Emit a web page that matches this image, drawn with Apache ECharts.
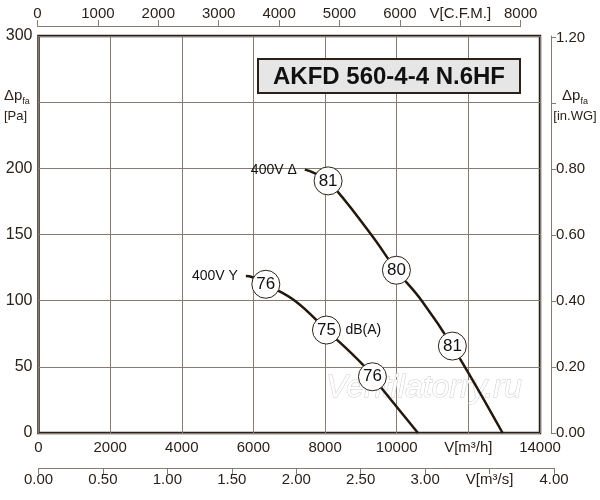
<!DOCTYPE html>
<html>
<head>
<meta charset="utf-8">
<script src="https://cdn.jsdelivr.net/npm/echarts@6/dist/echarts.min.js"></script>
<style>
  html, body { margin: 0; padding: 0; background: #fff; }
  #main { width: 600px; height: 500px; }
</style>
</head>
<body>
<div id="main"></div>
<script>
// fan curves, V in m3/h, dp in Pa
var curveDelta = [
  [7434, 199], [7657, 197], [8084, 190.5], [9295, 149.6],
  [9992, 123], [10698, 100], [11554, 65.7], [12957, 0]
];
var curveStar = [
  [5788, 118.6], [5955, 117.9], [6346, 112.4], [7183, 99.4],
  [8039, 77.8], [9060, 51.4], [9618, 32.5], [10594, 0]
];
// noise level circles [V, dp, dB]
var noiseDelta = [[8084, 190.5, '81'], [9992, 123, '80'], [11554, 65.7, '81']];
var noiseStar = [[6346, 112.4, '76'], [8039, 77.8, '75'], [9322, 42.5, '76']];
// curve names at the start of each curve
var curveNames = [[7434, 199, '400V Δ'], [5788, 118.6, '400V Y']];
var dbLabel = [[8039, 77.8, 'dB(A)']];

var cfmMax = 8000;
var m3sMax = 4.0;
var inwgMax = 300 / 249.089;

var ink = '#2b2118';
var gridCol = '#857b6e';
var fontFam = '"Liberation Sans", Arial, sans-serif';

var myChart = echarts.init(document.getElementById('main'));

myChart.setOption({
  animation: false,
  textStyle: { fontFamily: fontFam },
  grid: [
    { left: 38.5, right: 60, top: 36, bottom: 67, show: true, borderColor: ink, borderWidth: 2.5 },
    { left: 37.5, right: 79.3, top: 25, height: 1 },
    { left: 38.5, right: 46, top: 467, height: 1 }
  ],
  xAxis: [
    {
      gridIndex: 0, type: 'value', min: 0, max: 14000, interval: 2000,
      axisLine: { show: false }, axisTick: { show: false },
      splitLine: { show: true, lineStyle: { color: gridCol, width: 1 } },
      axisLabel: {
        color: ink, fontSize: 15, margin: 7,
        formatter: function (v) { return v === 12000 ? 'V[m³/h]' : String(v); }
      }
    },
    {
      gridIndex: 1, type: 'value', position: 'top', min: 0, max: cfmMax, interval: 1000,
      axisLine: { show: true, lineStyle: { color: gridCol, width: 1 } },
      axisTick: { show: true, length: 6, lineStyle: { color: gridCol } },
      splitLine: { show: false },
      axisLabel: {
        color: ink, fontSize: 15, margin: 4,
        formatter: function (v) { return v === 7000 ? 'V[C.F.M.]' : String(v); }
      }
    },
    {
      gridIndex: 2, type: 'value', position: 'bottom', min: 0, max: m3sMax, interval: 0.5,
      axisLine: { show: true, lineStyle: { color: gridCol, width: 1 } },
      axisTick: { show: true, length: 6, lineStyle: { color: gridCol } },
      splitLine: { show: false },
      axisLabel: {
        color: ink, fontSize: 15, margin: 4,
        formatter: function (v) { return v === 3.5 ? 'V[m³/s]' : v.toFixed(2); }
      }
    }
  ],
  yAxis: [
    {
      gridIndex: 0, type: 'value', min: 0, max: 300, interval: 50,
      axisLine: { show: false }, axisTick: { show: false },
      splitLine: { show: true, lineStyle: { color: gridCol, width: 1 } },
      axisLabel: {
        color: ink, fontSize: 16, margin: 6,
        formatter: function (v) { return v === 250 ? '' : String(v); }
      }
    },
    {
      gridIndex: 0, type: 'value', position: 'right', offset: 11, min: 0, max: inwgMax, interval: 0.2,
      axisLine: { show: true, lineStyle: { color: gridCol, width: 1 } },
      axisTick: { show: true, length: 5, lineStyle: { color: gridCol } },
      splitLine: { show: false },
      axisLabel: {
        color: ink, fontSize: 15, margin: 5,
        formatter: function (v) {
          if (Math.abs(v - 1.0) < 1e-6) return '';
          return v.toFixed(2);
        }
      }
    },
    { gridIndex: 1, type: 'value', show: false },
    { gridIndex: 2, type: 'value', show: false }
  ],
  graphic: [
    {
      type: 'rect', z: 10, shape: { x: 258, y: 59, width: 262, height: 34 },
      style: { fill: '#e6e6e6', stroke: ink, lineWidth: 2 }
    },
    {
      type: 'text', z: 11, x: 389, y: 77,
      style: {
        text: 'AKFD 560-4-4 N.6HF', font: 'bold 24px ' + fontFam,
        fill: '#111', align: 'center', verticalAlign: 'middle'
      }
    },
    {
      type: 'text', z: 1, x: 424, y: 388,
      style: {
        text: 'Ventilatorry.ru', font: 'italic 32px ' + fontFam,
        fill: '#ffffff', stroke: '#cccccc', lineWidth: 1,
        align: 'center', verticalAlign: 'middle'
      }
    },
    {
      type: 'text', z: 10, x: 4, y: 86,
      style: {
        text: '{a|Δp}{b|fa}\n{c|[Pa]}',
        rich: {
          a: { fontSize: 15, fill: ink, fontFamily: fontFam, lineHeight: 20 },
          b: { fontSize: 9, fill: ink, fontFamily: fontFam, verticalAlign: 'bottom', lineHeight: 16 },
          c: { fontSize: 13, fill: ink, fontFamily: fontFam, lineHeight: 20 }
        }
      }
    },
    {
      type: 'text', z: 10, x: 575, y: 86,
      style: {
        text: '{a|Δp}{b|fa}\n{c|[in.WG]}', align: 'center',
        rich: {
          a: { fontSize: 15, fill: ink, fontFamily: fontFam, lineHeight: 20, align: 'center' },
          b: { fontSize: 9, fill: ink, fontFamily: fontFam, verticalAlign: 'bottom', lineHeight: 16, align: 'center' },
          c: { fontSize: 13, fill: ink, fontFamily: fontFam, lineHeight: 20, align: 'center' }
        }
      }
    }
  ],
  series: [
    {
      name: '400V Δ', type: 'line', xAxisIndex: 0, yAxisIndex: 0,
      data: curveDelta, smooth: 0.4, showSymbol: false, z: 3,
      lineStyle: { color: '#24170c', width: 2.5 }
    },
    {
      name: '400V Y', type: 'line', xAxisIndex: 0, yAxisIndex: 0,
      data: curveStar, smooth: 0.4, showSymbol: false, z: 3,
      lineStyle: { color: '#24170c', width: 2.5 }
    },
    {
      name: 'noise', type: 'scatter', xAxisIndex: 0, yAxisIndex: 0, z: 5,
      data: noiseDelta.concat(noiseStar),
      symbol: 'circle', symbolSize: 28,
      itemStyle: { color: '#fff', borderColor: ink, borderWidth: 1, opacity: 1 },
      label: {
        show: true, position: 'inside', color: '#111', fontSize: 17,
        formatter: function (p) { return p.data[2]; }
      }
    },
    {
      name: 'names', type: 'scatter', xAxisIndex: 0, yAxisIndex: 0, z: 5,
      data: curveNames, symbolSize: 0,
      itemStyle: { opacity: 1 },
      label: {
        show: true, position: 'left', distance: 8, color: '#111', fontSize: 14,
        formatter: function (p) { return p.data[2]; }
      }
    },
    {
      name: 'db', type: 'scatter', xAxisIndex: 0, yAxisIndex: 0, z: 5,
      data: dbLabel, symbolSize: 0,
      itemStyle: { opacity: 1 },
      label: {
        show: true, position: 'right', distance: 19, color: '#111', fontSize: 14,
        formatter: function (p) { return p.data[2]; }
      }
    }
  ]
});
</script>
</body>
</html>
